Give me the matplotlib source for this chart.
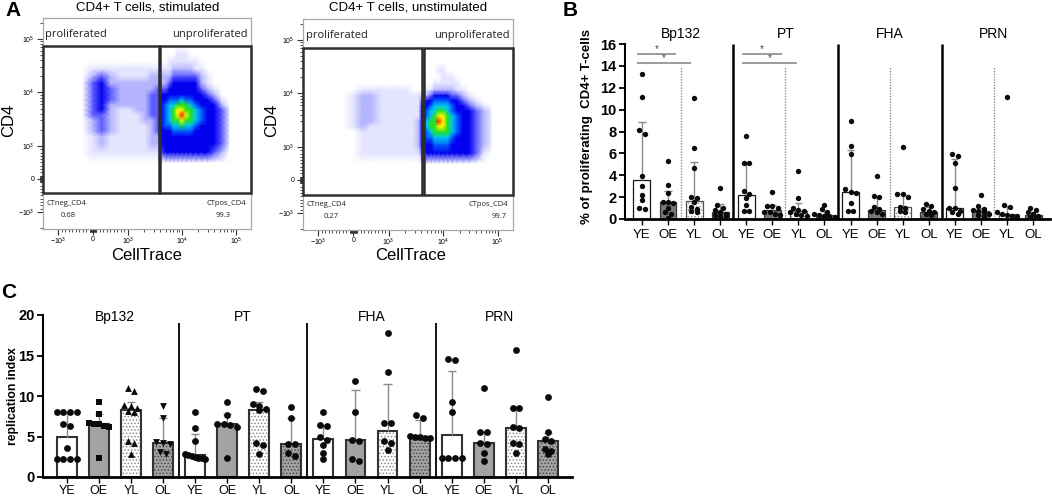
import numpy as np
import matplotlib
matplotlib.use("Agg")
import matplotlib.pyplot as plt
from matplotlib.colors import LinearSegmentedColormap
from matplotlib.patches import Rectangle
from matplotlib.ticker import FixedLocator

plt.rcParams['font.family'] = ['Liberation Sans', 'DejaVu Sans']
plt.rcParams['mathtext.default'] = 'regular'
plt.rcParams['hatch.linewidth'] = 0.7

W, H = 1052, 497

# ---------------- panel A: flow cytometry (density) ----------------
celltrace_nodes = [-300, 0, 250, 500, 800, 1100, 1500, 2100, 2800, 3600, 4100, 5000,
                   6000, 7000, 8300, 10000, 12000, 14500, 18000, 23000, 30000, 40000, 55000, 75000]
cd4_nodes = [70000, 52000, 37000, 27000, 20000, 15000, 11500, 9000, 7200, 5800,
             4700, 3800, 3000, 2400, 1900, 1500, 1100, 800, 500]

# density level per node, 0 = empty ... 9 = highest (red)
stim_density = [
    "000000000000000000000000",
    "000000000000001110000000",
    "000000000000111111100000",
    "011111111111122222110000",
    "023211112222233333321000",
    "034222222222344444421000",
    "034322222333444444432100",
    "034322223344444444443200",
    "034322223344555655444310",
    "034222223345667776544420",
    "034211223345678877654431",
    "033211123345678987654431",
    "023211122345677877654431",
    "023211112345566766544431",
    "023211112344455555444431",
    "012111112244444444444431",
    "012111112244444444444431",
    "011111111134444444444320",
    "000000000000000000000000",
]
unstim_density = [
    "000000000000000000000000",
    "000000000000000000000000",
    "000000000000000000000000",
    "000000000000001100000000",
    "000000000000000111000000",
    "000000000000011111100000",
    "001111110001122222110000",
    "012211111122344443321000",
    "012211111134455554432100",
    "012211111144566665443210",
    "012211111145667765444321",
    "012211111145678876544321",
    "012211111246779876544321",
    "012111111246778876544321",
    "001111111245677776544321",
    "001111111245566665444321",
    "001111111244455554444321",
    "001111111134444444444310",
    "000000000000000000000000",
]

# gates: left gate right edge, right gate left edge, top, bottom
stim_gate = [3800, 3950, 74000, -424]
unstim_gate = [4100, 4450, 71000, -450]
stim_pct = ["0.68", "99.3"]
unstim_pct = ["0.27", "99.7"]

flow_major = [-1000, 0, 1000, 10000, 100000]
flow_major_labels = [r'$-10^3$', '0', r'$10^3$', r'$10^4$', r'$10^5$']
flow_minor = ([-2000] + [-v for v in range(100, 1000, 100)] + [-v for v in range(10, 100, 10)]
              + list(range(10, 100, 10)) + list(range(100, 1000, 100))
              + list(range(2000, 10000, 1000)) + list(range(20000, 100000, 10000)) + [200000])

# ---------------- panel B: % proliferating CD4+ T cells ----------------
groups = ['Bp132', 'PT', 'FHA', 'PRN']
cats = ['YE', 'OE', 'YL', 'OL']

b_median = [3.55, 1.55, 1.65, 0.6,
            2.2, 0.8, 0.7, 0.35,
            2.45, 0.82, 1.13, 0.67,
            0.98, 0.76, 0.5, 0.37]
b_q3 = [8.9, 2.55, 5.18, 1.4,
        5.0, 1.3, 1.45, 0.7,
        6.35, 1.98, 2.26, 1.1,
        5.45, 1.0, 1.2, 0.6]
b_points = [
    [13.3, 11.2, 8.1, 7.8, 3.9, 3.0, 2.2, 1.7, 1.0, 0.9],
    [5.3, 3.1, 2.4, 1.6, 1.6, 1.5, 1.0, 0.6, 0.5, 0.1],
    [11.1, 6.5, 4.7, 2.0, 1.9, 1.6, 1.1, 0.9, 0.7, 0.6],
    [2.8, 1.3, 1.0, 0.8, 0.6, 0.5, 0.4, 0.3, 0.3],
    [7.6, 5.1, 5.1, 2.6, 2.3, 1.9, 1.3, 0.7, 0.7],
    [2.5, 1.2, 1.2, 1.0, 0.6, 0.6, 0.5, 0.4],
    [4.4, 1.9, 1.0, 0.8, 0.7, 0.6, 0.5, 0.4, 0.3],
    [1.3, 0.9, 0.6, 0.5, 0.4, 0.3, 0.3, 0.2, 0.1],
    [9.0, 6.7, 5.9, 2.7, 2.5, 2.4, 1.5, 0.7, 0.7],
    [3.9, 2.1, 2.0, 1.1, 0.9, 0.7, 0.6, 0.5],
    [6.6, 2.3, 2.3, 2.0, 1.1, 1.0, 0.7, 0.6],
    [1.4, 1.2, 0.9, 0.7, 0.6, 0.5, 0.4],
    [5.9, 5.8, 5.1, 2.8, 1.0, 1.0, 0.7, 0.6, 0.5],
    [2.2, 1.2, 0.9, 0.8, 0.7, 0.6, 0.5, 0.4, 0.3],
    [11.2, 1.3, 1.1, 0.6, 0.5, 0.4, 0.3, 0.3],
    [1.0, 0.8, 0.6, 0.5, 0.3, 0.2, 0.2],
]
# significance brackets (x start, x end, height)
sig_x0 = [-0.2, -0.2, 3.82, 3.82]
sig_x1 = [1.31, 1.88, 5.37, 5.95]
sig_y = [15.1, 14.3, 15.1, 14.3]

# ---------------- panel C: replication index ----------------
c_median = [4.95, 6.5, 8.25, 4.25,
            2.68, 6.5, 8.25, 4.1,
            4.66, 4.6, 5.65, 4.95,
            5.24, 4.25, 6.06, 4.45]
c_q3 = [8.0, 7.8, 9.3, 7.3,
        5.36, 7.75, 9.3, 7.3,
        6.4, 10.8, 11.46, 7.0,
        13.1, 5.6, 8.6, 5.44]
c_points = [
    [8.0, 8.0, 8.0, 8.0, 6.6, 6.3, 3.6, 2.2, 2.2, 2.2, 2.2],
    [9.2, 7.8, 6.7, 6.6, 6.5, 6.3, 6.2, 2.4],
    [11.0, 10.6, 8.9, 8.8, 8.5, 8.1, 8.0, 4.4, 4.2, 2.8],
    [8.8, 7.3, 4.3, 4.2, 4.1, 3.1, 2.9],
    [8.0, 6.0, 4.4, 2.8, 2.7, 2.6, 2.5, 2.4, 2.3, 2.2],
    [9.3, 7.7, 6.5, 6.5, 6.4, 6.2, 2.4],
    [10.9, 10.6, 9.0, 8.8, 8.4, 8.3, 4.2, 4.0, 2.8],
    [8.6, 7.3, 4.1, 4.1, 3.0, 2.6],
    [8.0, 6.4, 6.3, 5.0, 4.6, 4.0, 3.0, 2.2],
    [11.8, 8.0, 4.6, 4.5, 2.2, 2.0],
    [17.8, 13.0, 6.7, 6.7, 4.4, 4.2, 3.3],
    [7.6, 7.3, 5.1, 5.0, 4.9, 4.8, 4.8],
    [14.6, 14.4, 9.3, 8.0, 2.4, 2.4, 2.3, 2.3],
    [11.0, 5.6, 5.6, 4.2, 4.1, 3.0, 2.0],
    [15.7, 8.5, 8.5, 6.2, 6.0, 4.2, 4.1, 3.0],
    [9.9, 5.5, 4.7, 4.5, 3.5, 3.2, 2.8],
]
c_markers = ['o', 's', '^', 'v'] + ['o'] * 12


def fbox(x0, y0, x1, y1):
    return [x0 / W, 1 - y1 / H, (x1 - x0) / W, (y1 - y0) / H]


fig = plt.figure(figsize=(W / 100, H / 100), dpi=100)


def ftext(x, y, s, **kw):
    fig.text(x / W, 1 - y / H, s, **kw)


flow_cmap = LinearSegmentedColormap.from_list(
    'flow', ['#ffffff', '#e4e4ff', '#b4b4ff', '#5c5cff', '#0000f0', '#0062ff',
             '#00c8f0', '#22e022', '#ffff00', '#ff1000'])


def flow_panel(ax, density, gate, pct, pct_x):
    ax.set_xscale('symlog', linthresh=1000, linscale=0.58)
    ax.set_yscale('symlog', linthresh=1000, linscale=0.555)
    X, Y = np.meshgrid(celltrace_nodes, cd4_nodes)
    Z = np.array([[int(ch) for ch in row] for row in density], dtype=float)
    ax.pcolormesh(X, Y, Z, shading='gouraud', cmap=flow_cmap, vmin=0, vmax=9, zorder=1)
    xmin, xmax = -1914, 191400
    ax.set_xlim(xmin, xmax)
    ax.set_ylim(-2080, 246600)
    g_left, g_right, g_top, g_bot = gate
    ax.add_patch(Rectangle((xmin, g_bot), g_left - xmin, g_top - g_bot, fill=False,
                           ec='#2e2e2e', lw=1.8, zorder=3, clip_on=False))
    ax.add_patch(Rectangle((g_right, g_bot), xmax - g_right, g_top - g_bot, fill=False,
                           ec='#2e2e2e', lw=1.8, zorder=3, clip_on=False))
    for axis in (ax.xaxis, ax.yaxis):
        axis.set_major_locator(FixedLocator(flow_major))
        axis.set_minor_locator(FixedLocator(flow_minor))
    ax.set_xticklabels(flow_major_labels)
    ax.set_yticklabels(flow_major_labels)
    ax.tick_params(which='major', length=4, width=0.8, color='#333333', labelsize=5, pad=2)
    ax.tick_params(axis='x', which='major', pad=1)
    ax.tick_params(which='minor', length=2.2, width=0.6, color='#333333')
    for sp in ax.spines.values():
        sp.set_color('#a8a8a8')
        sp.set_linewidth(0.9)
    tk = dict(transform=ax.transAxes, family=['Open Sans', 'DejaVu Sans'], color='#222222')
    ax.text(0.012, 0.922, 'proliferated', ha='left', va='center', fontsize=8, **tk)
    ax.text(0.986, 0.922, 'unproliferated', ha='right', va='center', fontsize=8, **tk)
    ax.text(0.015, 0.123, 'CTneg_CD4', ha='left', va='center', fontsize=5.5, **tk)
    ax.text(0.975, 0.123, 'CTpos_CD4', ha='right', va='center', fontsize=5.5, **tk)
    ax.text(pct_x[0], 0.064, pct[0], ha='center', va='center', fontsize=5.5, **tk)
    ax.text(pct_x[1], 0.064, pct[1], ha='center', va='center', fontsize=5.5, **tk)


axA1 = fig.add_axes(fbox(43, 18, 251, 229))
flow_panel(axA1, stim_density, stim_gate, stim_pct, [0.123, 0.865])
axA2 = fig.add_axes(fbox(303, 19, 513, 230))
flow_panel(axA2, unstim_density, unstim_gate, unstim_pct, [0.133, 0.933])

ftext(148, 8, 'CD4+ T cells, stimulated', ha='center', va='center', fontsize=9.5)
ftext(408, 8, 'CD4+ T cells, unstimulated', ha='center', va='center', fontsize=9.5)
for xx in (9, 272):
    ftext(xx, 120, 'CD4', ha='center', va='center', rotation=90, fontsize=12)
for xx in (147, 411):
    ftext(xx, 256, 'CellTrace', ha='center', va='center', fontsize=12)


def swarm_offsets(vals, px_x, px_y, d, max_w):
    vals = np.asarray(vals, float)
    order = np.argsort(-vals, kind='stable')
    rows = []
    for i in order:
        if rows and (vals[rows[-1][0]] - vals[i]) * px_y < 0.75 * d:
            rows[-1].append(i)
        else:
            rows.append([i])
    offs = np.zeros(len(vals))
    for r in rows:
        k = len(r)
        step = d if k < 2 else min(d, max_w / (k - 1))
        for j, i in enumerate(r):
            offs[i] = (j - (k - 1) / 2) * step / px_x
    return offs


def bar_panel(ax, med, q3, pts, markers, st):
    x = np.arange(len(med))
    for i in x:
        k = i % 4
        ax.bar(i, med[i], st['width'], color=st['fills'][k], hatch=st['hatches'][k],
               edgecolor=st['hatch_cols'][k], linewidth=0, zorder=2)
        ax.bar(i, med[i], st['width'], fill=False, edgecolor=st['edges'][k],
               linewidth=st['edge_lw'], zorder=2.1)
        ax.vlines(i, med[i], q3[i], color='#8a8a8a', lw=1.0, zorder=3)
        ax.hlines(q3[i], i - st['cap'] / 2, i + st['cap'] / 2, color='#8a8a8a', lw=1.0, zorder=3)
        offs = swarm_offsets(pts[i], st['px_x'], st['px_y'], st['dot'], st['spread'])
        ax.scatter(i + offs, pts[i], s=st['msize'], marker=markers[i], color='#0a0a0a',
                   linewidths=0, zorder=4)
    ax.set_xticks(x)
    ax.set_xticklabels(cats * 4)
    ax.spines[['top', 'right']].set_visible(False)
    ax.spines['left'].set_linewidth(1.5)
    ax.spines['bottom'].set_linewidth(2.0)
    ax.tick_params(axis='y', length=4, width=1.3, labelsize=10.5, pad=2)
    ax.tick_params(axis='x', length=4, width=1.0, labelsize=st['xlab'], pad=st['xpad'])
    for lab in ax.get_yticklabels():
        lab.set_fontweight('bold')


# panel B
axB = fig.add_axes(fbox(625, 44, 1050, 219))
axB.set_xlim(-0.65, 15.65)
axB.set_ylim(0, 16)
axB.set_yticks(range(0, 17, 2))
bar_panel(axB, b_median, b_q3, b_points, ['o'] * 16, dict(
    width=0.65, fills=['white', '#777777', 'white', '#777777'],
    hatches=[None, None, '.....', '.....'], hatch_cols=['white', '#777777', '#9a9a9a', '#4a4a4a'],
    edges=['#1a1a1a', '#3a3a3a', '#555555', '#3a3a3a'], edge_lw=0.9, cap=0.28,
    px_x=25.9, px_y=10.94, dot=5.4, spread=20, msize=15, xlab=9.5, xpad=3.5))
axB.vlines([3.5, 7.5, 11.5], 0, 16, color='black', lw=1.8, zorder=5, clip_on=False)
axB.vlines([1.5, 5.5, 9.5, 13.5], 0, 14, color='#8c8c8c', lw=1.0, linestyles=(0, (1, 1)), zorder=1)
for g, name in enumerate(groups):
    axB.text(4 * g + 1.5, 16.9, name, ha='center', va='center', fontsize=10, clip_on=False)
for x0, x1, yy in zip(sig_x0, sig_x1, sig_y):
    axB.hlines(yy, x0, x1, color='#8a8a8a', lw=1.2, zorder=3)
    axB.text((x0 + x1) / 2, yy + 0.45, '*', ha='center', va='center', fontsize=7, color='#444444')
ftext(587, 127, '% of proliferating  CD4+ T-cells', ha='center', va='center', rotation=90,
      fontsize=9.5, fontweight='bold')

# panel C
axC = fig.add_axes(fbox(43, 315, 572, 477))
axC.set_xlim(-0.74, 15.75)
axC.set_ylim(0, 20)
axC.set_yticks(range(0, 21, 5))
bar_panel(axC, c_median, c_q3, c_points, c_markers, dict(
    width=0.62, fills=['white', '#a3a3a3', 'white', '#a3a3a3'],
    hatches=[None, None, '.....', '.....'], hatch_cols=['white', '#a3a3a3', '#8c8c8c', '#4a4a4a'],
    edges=['#333333'] * 4, edge_lw=1.5, cap=0.26,
    px_x=32.1, px_y=8.1, dot=6.6, spread=20, msize=24, xlab=9, xpad=1.5))
axC.vlines([3.5, 7.5, 11.5], 0, 19, color='black', lw=1.3, zorder=5)
for g, name in enumerate(groups):
    axC.text(4 * g + 1.5, 19.8, name, ha='center', va='center', fontsize=10, clip_on=False)
ftext(13, 396, 'replication index', ha='center', va='center', rotation=90,
      fontsize=8.8, fontweight='bold')

# panel letters
ftext(13, 10, 'A', ha='center', va='center', fontsize=15, fontweight='bold')
ftext(570, 10, 'B', ha='center', va='center', fontsize=15, fontweight='bold')
ftext(9, 292, 'C', ha='center', va='center', fontsize=15, fontweight='bold')

fig.savefig('out.png', dpi=100)
